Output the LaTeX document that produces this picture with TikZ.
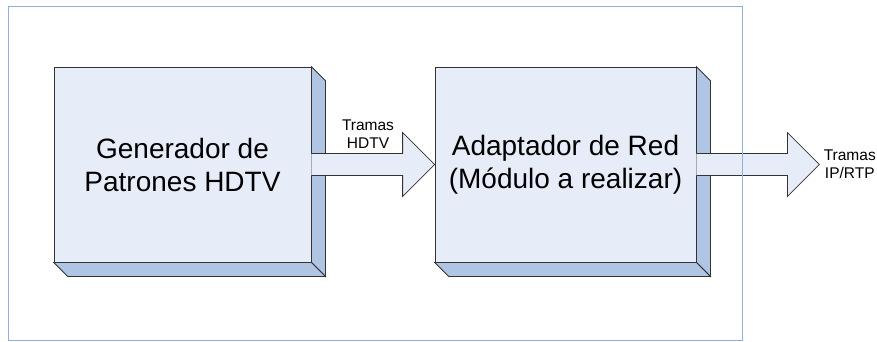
\documentclass[tikz,border=0pt]{standalone}
\usepackage{fontspec}
\setmainfont{Liberation Sans}
\usetikzlibrary{calc,positioning}

\definecolor{cara}{RGB}{231,237,248}
\definecolor{lado}{RGB}{176,196,228}
\definecolor{marco}{RGB}{142,176,226}

\tikzset{
  bloque/.style={draw=black!80, fill=cara, minimum width=257pt, minimum height=195pt,
    align=center, inner sep=0pt, font=\fontsize{28}{33}\selectfont},
  lateral/.style={draw=black!80, fill=lado},
  flecha/.style={draw=black!80, fill=cara},
  etiqueta/.style={align=center, inner sep=0pt, font=\fontsize{15.5}{18}\selectfont}
}

\begin{document}
\begin{tikzpicture}[x=1pt, y=-1pt, line width=0.8pt]
\useasboundingbox (0,0) rectangle (877,341);
% bloques
\node[bloque] (gen) at (182.5,164.5) {Generador de\\Patrones HDTV};
\node[bloque, minimum width=261pt] (adap) at (565.5,164.5) {Adaptador de Red\\(Módulo a realizar)};
% caras laterales
\foreach \b in {gen,adap} {
  \filldraw[lateral] (\b.north east) -- ++(14,14) -- ($(\b.south east)+(14,14)$) -- (\b.south east) -- cycle;
  \filldraw[lateral] (\b.south west) -- ++(14,14) -- ($(\b.south east)+(14,14)$) -- (\b.south east) -- cycle;
}
% flechas
\filldraw[flecha] ($(gen.east)+(0,-11)$) -- ($(adap.west)+(-32,-11)$) -- ($(adap.west)+(-32,-32)$)
  -- (adap.west) -- ($(adap.west)+(-32,32)$) -- ($(adap.west)+(-32,11)$) -- ($(gen.east)+(0,11)$);
\coordinate (punta) at ($(adap.east)+(123,0)$);
\filldraw[flecha] ($(adap.east)+(0,-11)$) -- ($(punta)+(-32,-11)$) -- ($(punta)+(-32,-32)$)
  -- (punta) -- ($(punta)+(-32,32)$) -- ($(punta)+(-32,11)$) -- ($(adap.east)+(0,11)$);
\node[etiqueta] (hdtv) at (368,134) {Tramas\\HDTV};
\node[etiqueta, right=4pt of punta] (rtp) {Tramas\\IP/RTP};
% marco
\draw[marco, line width=1pt] (8.5,6.5) rectangle (742,340);
\end{tikzpicture}
\end{document}
